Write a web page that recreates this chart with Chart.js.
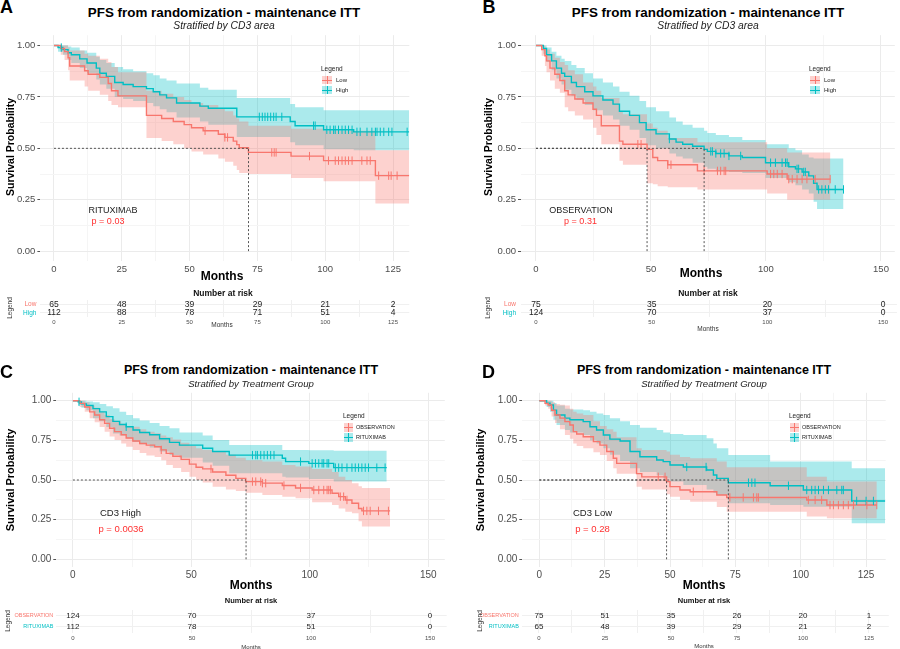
<!DOCTYPE html>
<html>
<head>
<meta charset="utf-8">
<script src="https://cdn.jsdelivr.net/npm/chart.js@4.4.1/dist/chart.umd.min.js"></script>
<style>
  body { margin: 0; background: #fff; font-family: "Liberation Sans", Arial, sans-serif; }
  #page { position: relative; width: 900px; height: 649px; overflow: hidden; }
  canvas { position: absolute; }
  .t { position: absolute; white-space: nowrap; line-height: 1; transform: translate(-50%, -50%); color: #111; }
  .l { position: absolute; white-space: nowrap; line-height: 1; transform: translate(0, -50%); color: #222; }
  .r { position: absolute; white-space: nowrap; line-height: 1; transform: translate(-50%, -50%) rotate(-90deg); color: #111; }
  .key { position: absolute; }
  .key i { position: absolute; }
</style>
</head>
<body>
<div id="page"></div>
<script>
// ---- data ----
// panel A: rituximab arm, CD3 low / high
const aLowTime  = [0, 2.5, 3.9, 5.2, 5.8, 11.3, 12.6, 16.9, 20, 21.2, 23.6, 34.1, 39.7, 44, 48, 50.7, 55, 60.6, 63, 66.1, 67.4, 68.3, 71.7, 87.4, 99.4, 118.5, 131];
const aLowSurv  = [1, 0.985, 0.97, 0.94, 0.9, 0.877, 0.86, 0.845, 0.815, 0.78, 0.755, 0.66, 0.645, 0.63, 0.615, 0.6, 0.585, 0.568, 0.553, 0.535, 0.518, 0.503, 0.48, 0.462, 0.44, 0.367, 0.367];
const aLowLower = [1, 0.955, 0.93, 0.88, 0.83, 0.8, 0.78, 0.76, 0.73, 0.71, 0.7, 0.55, 0.535, 0.52, 0.5, 0.485, 0.47, 0.45, 0.435, 0.415, 0.395, 0.38, 0.375, 0.355, 0.34, 0.232, 0.232];
const aLowUpper = [1, 1, 1, 0.99, 0.975, 0.96, 0.95, 0.935, 0.92, 0.895, 0.87, 0.78, 0.765, 0.75, 0.735, 0.72, 0.71, 0.695, 0.68, 0.66, 0.645, 0.63, 0.61, 0.595, 0.585, 0.49, 0.49];
const aLowCens  = [55.7, 63, 64, 80.3, 81.2, 81.9, 94.2, 101.2, 103.7, 104.9, 106.2, 107.4, 108.6, 109.9, 113.5, 115.4, 116.6, 119.7, 123.4, 124.3, 126.5];

const aHighTime  = [0, 1.5, 3.3, 5.2, 6.4, 9.5, 12.2, 15.6, 16.9, 19.3, 22.4, 25.5, 29.2, 34.1, 36.6, 39, 41.5, 45.2, 53.8, 56.9, 67.4, 87.1, 88.9, 99.4, 110.5, 131];
const aHighSurv  = [1, 0.99, 0.98, 0.965, 0.955, 0.935, 0.915, 0.89, 0.865, 0.85, 0.82, 0.81, 0.8, 0.79, 0.775, 0.76, 0.745, 0.72, 0.705, 0.695, 0.653, 0.63, 0.61, 0.59, 0.58, 0.58];
const aHighLower = [1, 0.97, 0.955, 0.93, 0.915, 0.89, 0.865, 0.835, 0.81, 0.79, 0.75, 0.74, 0.73, 0.72, 0.705, 0.69, 0.675, 0.65, 0.63, 0.615, 0.555, 0.53, 0.515, 0.495, 0.49, 0.49];
const aHighUpper = [1, 1, 1, 0.995, 0.99, 0.975, 0.965, 0.945, 0.93, 0.915, 0.895, 0.885, 0.875, 0.865, 0.855, 0.84, 0.83, 0.815, 0.795, 0.785, 0.745, 0.715, 0.7, 0.685, 0.685, 0.685];
const aHighCens  = [2.7, 75.7, 76.8, 77.8, 78.8, 79.9, 81, 81.9, 84, 95.7, 96.3, 100.6, 101.8, 103.1, 103.7, 104.9, 106.2, 107.4, 108.6, 109.9, 111.7, 112.9, 115.4, 117.2, 118.5, 119.1, 120.3, 121.6, 123.4, 124.6, 130.2];

// panel B: observation arm, CD3 low / high
const bLowTime  = [0, 2.5, 3.9, 4.6, 6.1, 8.2, 10.4, 12.5, 14, 16.9, 20.5, 24.8, 26.3, 28.4, 36.3, 37.8, 48.3, 50.8, 52.9, 57.3, 70.2, 100.5, 109.2, 128];
const bLowSurv  = [1, 0.98, 0.95, 0.925, 0.89, 0.86, 0.83, 0.78, 0.76, 0.74, 0.72, 0.69, 0.66, 0.61, 0.535, 0.52, 0.495, 0.455, 0.44, 0.42, 0.39, 0.375, 0.35, 0.35];
const bLowLower = [1, 0.95, 0.9, 0.87, 0.83, 0.79, 0.77, 0.7, 0.68, 0.66, 0.64, 0.6, 0.565, 0.52, 0.44, 0.42, 0.33, 0.325, 0.315, 0.31, 0.3, 0.28, 0.25, 0.25];
const bLowUpper = [1, 1, 0.99, 0.98, 0.96, 0.94, 0.92, 0.905, 0.88, 0.86, 0.82, 0.8, 0.78, 0.745, 0.68, 0.665, 0.62, 0.6, 0.585, 0.55, 0.53, 0.5, 0.48, 0.48];
const bLowCens  = [44.3, 45.7, 57.3, 58.7, 73.1, 78.9, 80.3, 81.8, 82.5, 102, 103.4, 104.9, 107, 109.9, 111.4, 113.5, 115.7, 117.8, 121.4, 127.9];

const bHighTime  = [0, 3.2, 4.6, 6.8, 8.9, 11.1, 12.5, 15.4, 17.6, 21.2, 24.8, 29.1, 33.5, 36.3, 40.7, 45, 47.9, 52.2, 58, 60.9, 63.8, 68.1, 73.1, 74.5, 78.2, 83.9, 89.7, 99.8, 109.9, 112.8, 115.7, 118.6, 120.7, 122.2, 133.7];
const bHighSurv  = [1, 0.985, 0.955, 0.925, 0.89, 0.865, 0.85, 0.82, 0.8, 0.775, 0.755, 0.735, 0.715, 0.68, 0.66, 0.625, 0.59, 0.57, 0.545, 0.53, 0.52, 0.51, 0.495, 0.485, 0.475, 0.463, 0.455, 0.43, 0.41, 0.4, 0.385, 0.366, 0.33, 0.3, 0.3];
const bHighLower = [1, 0.96, 0.92, 0.88, 0.84, 0.81, 0.785, 0.755, 0.735, 0.71, 0.685, 0.66, 0.64, 0.61, 0.59, 0.55, 0.515, 0.5, 0.475, 0.46, 0.45, 0.43, 0.41, 0.4, 0.39, 0.385, 0.38, 0.355, 0.335, 0.32, 0.3, 0.28, 0.24, 0.205, 0.205];
const bHighUpper = [1, 1, 0.99, 0.97, 0.95, 0.935, 0.925, 0.905, 0.89, 0.865, 0.84, 0.82, 0.8, 0.775, 0.755, 0.73, 0.7, 0.68, 0.65, 0.63, 0.615, 0.6, 0.585, 0.575, 0.565, 0.555, 0.54, 0.52, 0.5, 0.49, 0.47, 0.455, 0.45, 0.45, 0.45];
const bHighCens  = [58, 76, 76.7, 78.2, 80.3, 81.8, 83.9, 89, 102, 104.1, 107, 108.5, 109.2, 113.5, 114.2, 116.4, 117.1, 122.9, 124.3, 125.8, 127.2, 130.1, 133.7];

// panel C: CD3 high, observation / rituximab
const cObsTime  = [0, 2.9, 5, 7.1, 9.2, 11.3, 13.4, 15.5, 17.6, 20.4, 22.5, 25.3, 28.2, 31, 34.5, 37.3, 39.4, 42.2, 45.7, 49.2, 52, 54.8, 59, 64.6, 68.8, 73, 80, 88.4, 94, 101, 109.4, 112.2, 115, 117.8, 120.6, 122, 133.9];
const cObsSurv  = [1, 0.983, 0.96, 0.93, 0.91, 0.88, 0.857, 0.826, 0.805, 0.785, 0.765, 0.746, 0.73, 0.72, 0.71, 0.69, 0.668, 0.65, 0.63, 0.6, 0.58, 0.57, 0.55, 0.53, 0.51, 0.49, 0.48, 0.465, 0.45, 0.437, 0.416, 0.395, 0.374, 0.353, 0.32, 0.305, 0.305];
const cObsLower = [1, 0.96, 0.93, 0.89, 0.865, 0.835, 0.805, 0.775, 0.752, 0.73, 0.71, 0.69, 0.67, 0.655, 0.645, 0.625, 0.595, 0.575, 0.55, 0.52, 0.5, 0.485, 0.458, 0.44, 0.43, 0.42, 0.405, 0.395, 0.385, 0.36, 0.342, 0.32, 0.3, 0.29, 0.24, 0.206, 0.206];
const cObsUpper = [1, 1, 0.99, 0.97, 0.955, 0.93, 0.91, 0.885, 0.87, 0.855, 0.84, 0.836, 0.82, 0.805, 0.795, 0.78, 0.77, 0.755, 0.735, 0.715, 0.7, 0.69, 0.68, 0.66, 0.64, 0.625, 0.616, 0.595, 0.585, 0.57, 0.55, 0.52, 0.5, 0.48, 0.46, 0.45, 0.45];
const cObsCens  = [37.3, 58.3, 75.8, 77.2, 79.3, 80, 81.4, 89.1, 96.1, 101.7, 103.8, 105.9, 107.3, 108, 108.7, 112.9, 114.3, 115.7, 122.7, 124.1, 125.5, 129, 133.2];

const cRitTime  = [0, 2.2, 3.6, 5.7, 8.5, 11.3, 14.1, 16.9, 19.7, 22.5, 25.4, 28.2, 32.4, 36.6, 40.8, 45, 54.8, 59, 66, 88.4, 89.8, 99.6, 110.1, 132.5];
const cRitSurv  = [1, 0.993, 0.98, 0.97, 0.95, 0.93, 0.9, 0.87, 0.85, 0.836, 0.815, 0.8, 0.785, 0.76, 0.737, 0.72, 0.7, 0.68, 0.657, 0.637, 0.616, 0.605, 0.578, 0.578];
const cRitLower = [1, 0.975, 0.955, 0.94, 0.89, 0.87, 0.835, 0.794, 0.78, 0.763, 0.74, 0.725, 0.705, 0.68, 0.658, 0.64, 0.61, 0.59, 0.542, 0.52, 0.515, 0.506, 0.49, 0.49];
const cRitUpper = [1, 1, 1, 0.995, 0.99, 0.98, 0.965, 0.952, 0.93, 0.91, 0.89, 0.875, 0.86, 0.84, 0.826, 0.8, 0.78, 0.752, 0.72, 0.69, 0.69, 0.687, 0.685, 0.685];
const cRitCens  = [2.6, 22.5, 75.8, 77.2, 77.9, 79.3, 80.7, 82.1, 83.5, 84.9, 96.1, 101, 102.4, 103.8, 105.2, 105.9, 107.3, 108, 110.8, 112.2, 113.6, 115.7, 117.8, 119.2, 120.6, 122, 123.4, 124.8, 128.3, 131.8];

// panel D: CD3 low, observation / rituximab
const dObsTime  = [0, 2.2, 3.4, 4.7, 6, 7.9, 9.8, 11.7, 13, 14.3, 16.8, 20.7, 23.2, 25.8, 28.3, 29.6, 37.2, 39.2, 48.7, 50, 53.8, 57.7, 67.9, 71.7, 102.3, 110, 129.1];
const dObsSurv  = [1, 0.983, 0.973, 0.94, 0.91, 0.89, 0.868, 0.847, 0.805, 0.79, 0.773, 0.742, 0.72, 0.68, 0.637, 0.605, 0.54, 0.52, 0.49, 0.458, 0.437, 0.426, 0.405, 0.39, 0.374, 0.342, 0.342];
const dObsLower = [1, 0.97, 0.95, 0.9, 0.86, 0.82, 0.784, 0.76, 0.73, 0.715, 0.7, 0.675, 0.657, 0.62, 0.574, 0.54, 0.458, 0.44, 0.41, 0.395, 0.375, 0.363, 0.33, 0.3, 0.27, 0.258, 0.258];
const dObsUpper = [1, 1, 1, 0.99, 0.98, 0.975, 0.97, 0.95, 0.93, 0.92, 0.91, 0.87, 0.84, 0.82, 0.805, 0.77, 0.7, 0.69, 0.68, 0.66, 0.645, 0.637, 0.616, 0.58, 0.52, 0.49, 0.49];
const dObsCens  = [45.5, 48.1, 58.9, 72.9, 78, 81.9, 83.2, 83.8, 102.9, 105.5, 108, 111.2, 112.5, 114.4, 116.3, 118.2, 120.2, 125.3, 129.1];

const dRitTime  = [0, 2.8, 4.1, 5.4, 6.6, 9.8, 11.7, 16.8, 19.4, 21.9, 24.5, 27, 30.9, 34.7, 38.5, 44.9, 47.4, 50, 55.1, 64, 66.6, 67.9, 72.3, 88.3, 101, 119.5, 132.3];
const dRitSurv  = [1, 0.985, 0.973, 0.94, 0.91, 0.89, 0.88, 0.868, 0.836, 0.815, 0.784, 0.758, 0.746, 0.68, 0.647, 0.626, 0.616, 0.595, 0.582, 0.563, 0.532, 0.51, 0.483, 0.464, 0.437, 0.368, 0.368];
const dRitLower = [1, 0.96, 0.93, 0.88, 0.847, 0.815, 0.8, 0.784, 0.75, 0.73, 0.7, 0.66, 0.62, 0.574, 0.55, 0.53, 0.51, 0.49, 0.468, 0.44, 0.42, 0.405, 0.353, 0.342, 0.332, 0.227, 0.227];
const dRitUpper = [1, 1, 1, 0.985, 0.97, 0.95, 0.945, 0.94, 0.93, 0.92, 0.91, 0.89, 0.87, 0.847, 0.83, 0.815, 0.8, 0.79, 0.784, 0.763, 0.73, 0.7, 0.657, 0.616, 0.616, 0.574, 0.574];
const dRitCens  = [56.4, 63.8, 80, 81.3, 82.5, 95.3, 102.3, 104.2, 105.5, 106.8, 108.7, 110.6, 113.8, 115.7, 116.3, 121.4, 125, 127.8];

// median survival times (dashed guides)
const medA = [71.7];
const medB = [48.3, 73.1];
const medC = [73.1];
const medD = [48.7, 72.3];

// number at risk tables
const riskTimesA = [0, 25, 50, 75, 100, 125];
const riskLowA   = [65, 48, 39, 29, 21, 2];
const riskHighA  = [112, 88, 78, 71, 51, 4];
const riskTimesB = [0, 50, 100, 150];
const riskLowB   = [75, 35, 20, 0];
const riskHighB  = [124, 70, 37, 0];
const riskTimesC = [0, 50, 100, 150];
const riskObsC   = [124, 70, 37, 0];
const riskRitC   = [112, 78, 51, 0];
const riskTimesD = [0, 25, 50, 75, 100, 125];
const riskObsD   = [75, 51, 35, 26, 20, 1];
const riskRitD   = [65, 48, 39, 29, 21, 2];

// ---- drawing ----
const RED = "#F8766D", TEAL = "#00BFC4";
const RED_FILL = "rgba(248,118,109,0.33)", TEAL_FILL = "rgba(0,191,196,0.33)";
const FONT = '"Liberation Sans", Arial, sans-serif';
const page = document.getElementById("page");

function addCanvas(p) {
  const c = document.createElement("canvas");
  c.width = p.w; c.height = p.h;
  c.style.left = p.left + "px"; c.style.top = p.top + "px";
  page.appendChild(c);
  return c;
}

function txt(cls, x, y, s, css) {
  const d = document.createElement("div");
  d.className = cls;
  d.style.left = x + "px"; d.style.top = y + "px";
  d.style.cssText += css || "";
  d.textContent = s;
  page.appendChild(d);
}

function key(x, y, w, h, line, fill) {
  const k = document.createElement("div");
  k.className = "key";
  k.style.cssText = `left:${x}px;top:${y}px;width:${w}px;height:${h}px;background:${fill}`;
  k.innerHTML = `<i style="left:0;right:0;top:${h / 2 - 0.5}px;height:1px;background:${line}"></i>` +
                `<i style="top:0;bottom:0;left:${w / 2 - 0.5}px;width:1px;background:${line}"></i>`;
  page.appendChild(k);
}

function stepAt(time, surv, t) {
  let v = surv[0];
  for (let i = 0; i < time.length; i++) if (time[i] <= t) v = surv[i];
  return v;
}

function near(v, step) { return Math.abs(v / step - Math.round(v / step)) < 1e-6; }

// keep the chart area exactly where the layout puts it (no label overhang padding)
function noPad(s) { s.paddingTop = 0; s.paddingBottom = 0; s.paddingLeft = 0; s.paddingRight = 0; }

function kmSets(time, surv, lower, upper, cens, color, fill) {
  const pts = ys => time.map((t, i) => ({ x: t, y: ys[i] }));
  return [
    { data: pts(lower), stepped: true, borderWidth: 0, pointRadius: 0, fill: false, order: 5 },
    { data: pts(upper), stepped: true, borderWidth: 0, pointRadius: 0, fill: "-1", backgroundColor: fill, order: 5 },
    { data: pts(surv), stepped: true, borderColor: color, borderWidth: 1.4, pointRadius: 0, fill: false, order: 2 },
    { type: "scatter", data: cens.map(t => ({ x: t, y: stepAt(time, surv, t) })),
      pointStyle: "line", rotation: 90, radius: 4.2, borderColor: color, borderWidth: 1, order: 1 }
  ];
}

function xAxis(min, max, step, h, size, gridCol) {
  return {
    type: "linear", min: min, max: max,
    afterBuildTicks: s => { const v = []; for (let t = 0; t <= max; t += step / 2) v.push({ value: t }); s.ticks = v; },
    ticks: { autoSkip: false, maxRotation: 0, padding: 2, color: "#4d4d4d", font: { size: size, family: FONT },
             callback: v => near(v, step) ? String(v) : "" },
    grid: { color: c => gridCol || (near(c.tick.value, step) ? "#ebebeb" : "#f5f5f5"), drawTicks: false },
    border: { display: false },
    afterFit: s => { s.height = h; noPad(s); }
  };
}

function yAxis(w, size) {
  return {
    type: "linear", min: -0.05, max: 1.05,
    afterBuildTicks: s => { const v = []; for (let t = 0; t <= 1.0001; t += 0.125) v.push({ value: t }); s.ticks = v; },
    ticks: { autoSkip: false, padding: 2, color: "#4d4d4d", font: { size: size, family: FONT },
             callback: v => near(v, 0.25) ? v.toFixed(2) : "" },
    grid: { color: c => near(c.tick.value, 0.25) ? "#ebebeb" : "#f5f5f5", tickLength: 3,
            tickColor: c => near(c.tick.value, 0.25) ? "#555" : "rgba(0,0,0,0)" },
    border: { display: false },
    afterFit: s => { s.width = w; noPad(s); }
  };
}

function plotKM(p, xMin, xMax, step, curves, meds) {
  const datasets = [];
  curves.forEach(c => datasets.push(...kmSets(...c)));
  meds.forEach(m => {
    const dash = { borderColor: "#444", borderWidth: 0.9, borderDash: [2, 2], pointRadius: 0, fill: false, order: 0 };
    datasets.push(Object.assign({ data: [{ x: 0, y: 0.5 }, { x: m, y: 0.5 }] }, dash));
    datasets.push(Object.assign({ data: [{ x: m, y: 0 }, { x: m, y: 0.5 }] }, dash));
  });
  new Chart(addCanvas(p), {
    type: "line",
    data: { datasets: datasets },
    options: {
      responsive: false, animation: false, devicePixelRatio: 1,
      layout: { padding: { top: p.pt, right: p.pr, left: 0, bottom: 0 } },
      plugins: { legend: { display: false }, tooltip: { enabled: false } },
      scales: { x: xAxis(xMin, xMax, step, p.xh, p.fs), y: yAxis(p.yw, p.fs) }
    }
  });
}

const riskText = {
  id: "riskText",
  afterDatasetsDraw(chart) {
    const ctx = chart.ctx;
    ctx.save();
    ctx.fillStyle = "#222";
    ctx.font = chart.options.numSize + "px " + FONT;
    ctx.textAlign = "center"; ctx.textBaseline = "middle";
    chart.data.datasets.forEach((ds, i) => {
      chart.getDatasetMeta(i).data.forEach((el, j) => ctx.fillText(String(ds.counts[j]), el.x, el.y));
    });
    ctx.restore();
  }
};

function plotRisk(p, xMin, xMax, step, times, rows, counts, colors, numSize) {
  const datasets = rows.map((r, k) => ({ data: times.map(t => ({ x: t, y: r })), counts: counts[k], pointRadius: 0 }));
  new Chart(addCanvas(p), {
    type: "scatter",
    data: { datasets: datasets },
    plugins: [riskText],
    options: {
      responsive: false, animation: false, devicePixelRatio: 1, numSize: numSize,
      layout: { padding: { top: p.pt, right: p.pr, left: 0, bottom: 0 } },
      plugins: { legend: { display: false }, tooltip: { enabled: false } },
      scales: {
        x: xAxis(xMin, xMax, step, p.xh, 6, "#f0f0f0"),
        y: { type: "category", labels: rows, offset: true,
             grid: { offset: false, color: "#f0f0f0", drawTicks: false },
             ticks: { autoSkip: false, padding: p.lp, color: c => colors[c.index], font: { size: p.ls, family: FONT } },
             border: { display: false },
             afterFit: s => { s.width = p.yw; noPad(s); } }
      }
    }
  });
}

// panel A
plotKM({ left: 0, top: 30, w: 450, h: 250, yw: 40.4, pr: 40.7, pt: 3.7, xh: 18.6, fs: 9.5 }, -5, 131, 25, [
  [aLowTime, aLowSurv, aLowLower, aLowUpper, aLowCens, RED, RED_FILL],
  [aHighTime, aHighSurv, aHighLower, aHighUpper, aHighCens, TEAL, TEAL_FILL]
], medA);
plotRisk({ left: 0, top: 296, w: 450, h: 34, yw: 40.4, pr: 40.7, pt: 4, xh: 13, lp: 4, ls: 6.5 }, -5, 131, 25,
  riskTimesA, ["Low", "High"], [riskLowA, riskHighA], [RED, TEAL], 8.5);

// panel B
plotKM({ left: 450, top: 30, w: 450, h: 250, yw: 71, pr: 3.1, pt: 3.7, xh: 18.6, fs: 9.5 }, -6.5, 156, 50, [
  [bLowTime, bLowSurv, bLowLower, bLowUpper, bLowCens, RED, RED_FILL],
  [bHighTime, bHighSurv, bHighLower, bHighUpper, bHighCens, TEAL, TEAL_FILL]
], medB);
plotRisk({ left: 450, top: 296, w: 450, h: 34, yw: 71, pr: 3.1, pt: 4, xh: 13, lp: 5, ls: 6.5 }, -6.5, 156, 50,
  riskTimesB, ["Low", "High"], [riskLowB, riskHighB], [RED, TEAL], 8.5);

// panel C
plotKM({ left: 0, top: 385, w: 450, h: 205, yw: 56.3, pr: 3.3, pt: 7.8, xh: 22.8, fs: 10 }, -7, 157, 50, [
  [cObsTime, cObsSurv, cObsLower, cObsUpper, cObsCens, RED, RED_FILL],
  [cRitTime, cRitSurv, cRitLower, cRitUpper, cRitCens, TEAL, TEAL_FILL]
], medC);
plotRisk({ left: 0, top: 606, w: 450, h: 43, yw: 56.3, pr: 3.3, pt: 4, xh: 16.4, lp: 3, ls: 5.5 }, -7, 157, 50,
  riskTimesC, ["OBSERVATION", "RITUXIMAB"], [riskObsC, riskRitC], [RED, TEAL], 8);

// panel D
plotKM({ left: 450, top: 385, w: 450, h: 205, yw: 72.3, pr: 14.3, pt: 7.8, xh: 22.8, fs: 10 }, -6.5, 132.5, 25, [
  [dObsTime, dObsSurv, dObsLower, dObsUpper, dObsCens, RED, RED_FILL],
  [dRitTime, dRitSurv, dRitLower, dRitUpper, dRitCens, TEAL, TEAL_FILL]
], medD);
plotRisk({ left: 450, top: 606, w: 450, h: 43, yw: 71.8, pr: 11.2, pt: 4, xh: 16.4, lp: 3, ls: 5.5 }, -6.5, 132.5, 25,
  riskTimesD, ["OBSERVATION", "RITUXIMAB"], [riskObsD, riskRitD], [RED, TEAL], 8);

// ---- text: letters, titles, axis titles, legends, annotations ----
const letter = "font-size:18px;font-weight:bold;color:#000";
const title = "font-size:13.4px;font-weight:bold;color:#000";
const title2 = "font-size:12.5px;font-weight:bold;color:#000";
const sub = "font-size:10.3px;font-style:italic;color:#222";
const sub2 = "font-size:9.6px;font-style:italic;color:#222";
const ylab = "font-size:10.5px;font-weight:bold;color:#000";
const xlab = "font-size:12px;font-weight:bold;color:#000";
const pRed = "font-size:9px;color:#ff3030";
const ann = "font-size:9px;color:#222";
const risk = "font-size:8.5px;font-weight:bold;color:#111";
const small = "font-size:6.5px;color:#333";

// A
txt("t", 6.5, 6.5, "A", letter);
txt("t", 224, 13, "PFS from randomization - maintenance ITT", title);
txt("t", 224, 26, "Stratified by CD3 area", sub);
txt("r", 10, 147, "Survival Probability", ylab);
txt("t", 222, 276, "Months", xlab);
txt("l", 321, 69, "Legend", "font-size:6.5px;color:#222");
key(322, 76, 10, 8, RED, RED_FILL); txt("l", 336, 80, "Low", "font-size:6px");
key(322, 86, 10, 8, TEAL, TEAL_FILL); txt("l", 336, 90, "High", "font-size:6px");
txt("t", 113, 210, "RITUXIMAB", ann);
txt("t", 108, 221, "p = 0.03", pRed);
txt("t", 223, 293, "Number at risk", risk);
txt("r", 10, 308, "Legend", small);
txt("t", 222, 325, "Months", small);

// B
txt("t", 489, 7, "B", letter);
txt("t", 708, 13, "PFS from randomization - maintenance ITT", title);
txt("t", 708, 26, "Stratified by CD3 area", sub);
txt("r", 488, 147, "Survival Probability", ylab);
txt("t", 701, 273, "Months", xlab);
txt("l", 809, 69, "Legend", "font-size:6.5px;color:#222");
key(810, 76, 10, 8, RED, RED_FILL); txt("l", 824, 80, "Low", "font-size:6px");
key(810, 86, 10, 8, TEAL, TEAL_FILL); txt("l", 824, 90, "High", "font-size:6px");
txt("t", 581, 210, "OBSERVATION", ann);
txt("t", 580.5, 221, "p = 0.31", pRed);
txt("t", 708, 293, "Number at risk", risk);
txt("r", 488, 308, "Legend", small);
txt("t", 708, 329, "Months", small);

// C
txt("t", 6.5, 371.5, "C", letter);
txt("t", 251, 370, "PFS from randomization - maintenance ITT", title2);
txt("t", 251, 384, "Stratified by Treatment Group", sub2);
txt("r", 10, 480, "Survival Probability", "font-size:11px;font-weight:bold;color:#000");
txt("t", 251, 585, "Months", xlab);
txt("l", 343, 416, "Legend", "font-size:6.5px;color:#222");
key(344, 423, 9, 9, RED, RED_FILL); txt("l", 356, 428, "OBSERVATION", "font-size:5.5px");
key(344, 433, 9, 9, TEAL, TEAL_FILL); txt("l", 356, 438, "RITUXIMAB", "font-size:5.5px");
txt("t", 120.5, 513, "CD3 High", "font-size:9.5px;color:#222");
txt("t", 121, 529, "p = 0.0036", "font-size:9.5px;color:#ff3030");
txt("t", 251, 601, "Number at risk", "font-size:7.5px;font-weight:bold;color:#111");
txt("r", 8, 621, "Legend", small);
txt("t", 251, 647, "Months", "font-size:6px;color:#333");

// D
txt("t", 488.5, 371.5, "D", letter);
txt("t", 704, 370, "PFS from randomization - maintenance ITT", title2);
txt("t", 704, 384, "Stratified by Treatment Group", sub2);
txt("r", 480, 480, "Survival Probability", "font-size:11px;font-weight:bold;color:#000");
txt("t", 704, 585, "Months", xlab);
txt("l", 789, 416, "Legend", "font-size:6.5px;color:#222");
key(790, 423, 9, 9, RED, RED_FILL); txt("l", 802, 428, "OBSERVATION", "font-size:5.5px");
key(790, 433, 9, 9, TEAL, TEAL_FILL); txt("l", 802, 438, "RITUXIMAB", "font-size:5.5px");
txt("t", 592.5, 513, "CD3 Low", "font-size:9.5px;color:#222");
txt("t", 592.5, 529, "p = 0.28", "font-size:9.5px;color:#ff3030");
txt("t", 704, 601, "Number at risk", "font-size:7.5px;font-weight:bold;color:#111");
txt("r", 480, 621, "Legend", small);
txt("t", 704, 646, "Months", "font-size:6px;color:#333");
</script>
</body>
</html>
